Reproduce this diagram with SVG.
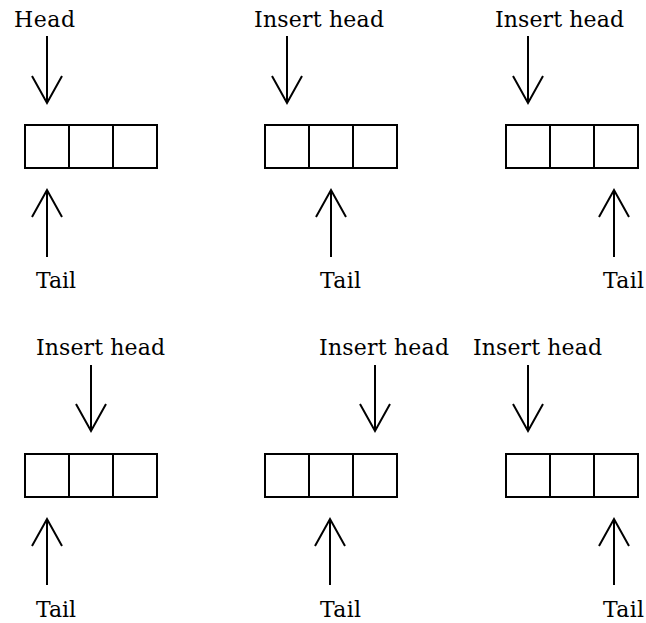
<svg xmlns="http://www.w3.org/2000/svg" width="646" height="623" viewBox="0 0 646 623">
  <style>
    .cell { fill: #fff; stroke: #000; stroke-width: 2; }
    .arrow { fill: none; stroke: #000; stroke-width: 2; stroke-linejoin: miter; }
    .label { font-family: "DejaVu Serif", "Liberation Serif", serif; font-size: 22px; fill: #000; }
  </style>
  <defs>
    <!-- three-cell array, 132 x 43 -->
    <g id="array3">
      <rect class="cell" x="0" y="0" width="132" height="43"/>
      <line class="cell" x1="44" y1="0" x2="44" y2="43"/>
      <line class="cell" x1="88" y1="0" x2="88" y2="43"/>
    </g>
  </defs>

  <!-- row 1 -->
  <g id="q1">
    <use href="#array3" x="25" y="125"/>
    <text class="label" x="14" y="27" textLength="61">Head</text>
    <text class="label" x="36" y="288" textLength="40">Tail</text>
  </g>
  <g id="q2">
    <use href="#array3" x="265" y="125"/>
    <text class="label" x="254" y="27" textLength="130">Insert head</text>
    <text class="label" x="320" y="288" textLength="41">Tail</text>
  </g>
  <g id="q3">
    <use href="#array3" x="506" y="125"/>
    <text class="label" x="495" y="27" textLength="129">Insert head</text>
    <text class="label" x="603" y="288" textLength="41">Tail</text>
  </g>

  <!-- row 2 -->
  <g id="q4">
    <use href="#array3" x="25" y="454"/>
    <text class="label" x="36" y="355" textLength="129">Insert head</text>
    <text class="label" x="36" y="617" textLength="40">Tail</text>
  </g>
  <g id="q5">
    <use href="#array3" x="265" y="454"/>
    <text class="label" x="319" y="355" textLength="130">Insert head</text>
    <text class="label" x="320" y="617" textLength="41">Tail</text>
  </g>
  <g id="q6">
    <use href="#array3" x="506" y="454"/>
    <text class="label" x="473" y="355" textLength="129">Insert head</text>
    <text class="label" x="603" y="617" textLength="41">Tail</text>
  </g>

  <!-- pointer arrows -->
  <g id="connectors">
    <!-- row 1 head pointers -->
    <path class="arrow" d="M47 36V103M32 76L47 103L62 76"/>
    <path class="arrow" d="M287 36V103M272 76L287 103L302 76"/>
    <path class="arrow" d="M528 36V103M513 76L528 103L543 76"/>
    <!-- row 1 tail pointers -->
    <path class="arrow" d="M47 257V190M32 217L47 190L62 217"/>
    <path class="arrow" d="M331 257V190M316 217L331 190L346 217"/>
    <path class="arrow" d="M614 257V190M599 217L614 190L629 217"/>
    <!-- row 2 head pointers -->
    <path class="arrow" d="M91 365V431M76 404L91 431L106 404"/>
    <path class="arrow" d="M375 365V431M360 404L375 431L390 404"/>
    <path class="arrow" d="M528 365V431M513 404L528 431L543 404"/>
    <!-- row 2 tail pointers -->
    <path class="arrow" d="M47 585V519M32 546L47 519L62 546"/>
    <path class="arrow" d="M330 585V519M315 546L330 519L345 546"/>
    <path class="arrow" d="M614 585V519M599 546L614 519L629 546"/>
  </g>
</svg>
